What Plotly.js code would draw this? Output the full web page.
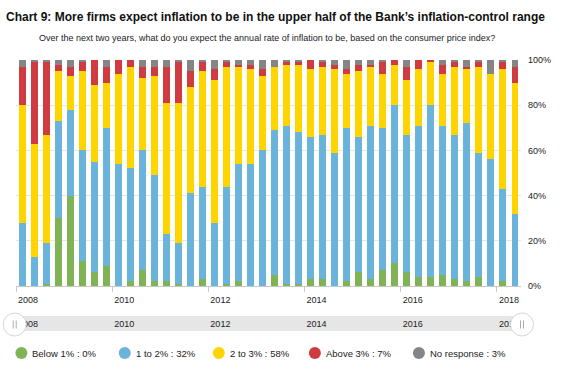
<!DOCTYPE html>
<html>
<head>
<meta charset="utf-8">
<script src="https://cdn.plot.ly/plotly-3.0.1.min.js"></script>
<style>html,body{margin:0;padding:0;background:#fff;}#chart{width:562px;height:375px;}</style>
</head>
<body>
<div id="chart"></div>
<script>
// ---- Data ----
const periods = ["2008Q1","2008Q2","2008Q3","2008Q4","2009Q1","2009Q2","2009Q3","2009Q4",
  "2010Q1","2010Q2","2010Q3","2010Q4","2011Q1","2011Q2","2011Q3","2011Q4",
  "2012Q1","2012Q2","2012Q3","2012Q4","2013Q1","2013Q2","2013Q3","2013Q4",
  "2014Q1","2014Q2","2014Q3","2014Q4","2015Q1","2015Q2","2015Q3","2015Q4",
  "2016Q1","2016Q2","2016Q3","2016Q4","2017Q1","2017Q2","2017Q3","2017Q4",
  "2018Q1","2018Q2"];
const below1   = [0,0,1,30,40,11,6,9,0,2,7,2,2,1,0,3,0,1,2,0,0,5,1,1,3,3,0,2,6,3,7,10,6,4,4,5,3,2,4,0,2,0];
const oneTo2   = [28,13,18,43,38,49,49,61,54,50,53,47,21,18,41,41,28,43,52,54,60,64,70,67,63,64,59,68,60,68,63,70,61,67,76,66,64,70,55,56,41,32];
const twoTo3   = [52,50,48,22,15,35,34,20,40,45,32,44,58,62,47,51,63,53,43,42,33,28,27,30,30,30,37,24,29,26,24,18,24,25,19,23,30,24,38,38,53,58];
const above3   = [17,36,32,3,4,4,11,7,6,3,5,4,16,18,7,4,5,2,1,2,3,0,1,1,4,2,2,2,3,1,5,2,6,4,1,4,2,1,2,0,3,7];
const noResp   = [3,1,1,2,3,1,0,3,0,0,3,3,3,1,5,1,4,1,2,2,4,3,1,1,0,1,2,4,2,2,1,0,3,0,0,2,1,3,1,6,1,3];
const seriesNames = ["Below 1%","1 to 2%","2 to 3%","Above 3%","No response"];
const yearTicks = [2008,2010,2012,2014,2016,2018];
const yTicks = [0,20,40,60,80,100];

// ---- Styles ----
const colors = ["#7fb356","#6ab4dc","#ffd500","#cf3b40","#858585"];
const FONT = '"Liberation Sans", Arial, sans-serif';
const W = 562, H = 375;
const L = 16.3, R = 521, T = 60, B = 331; // paper box in px
const PW = R - L, PH = B - T;
const px2x = p => (p - L) / PW;
const px2y = p => (B - p) / PH;

const xPos = periods.map(p => parseInt(p.slice(0,4)) + (parseInt(p.slice(5)) - 0.5) / 4);
const allSeries = [below1, oneTo2, twoTo3, above3, noResp];

const traces = allSeries.map((vals, i) => ({
  type: 'bar', x: xPos, y: vals, name: seriesNames[i],
  marker: {color: colors[i], line: {width: 0}},
  showlegend: false, hoverinfo: 'skip', xaxis: 'x', yaxis: 'y'
}));

const mainBottom = px2y(286);
const navTop = px2y(316);

const shapes = [];
const annotations = [];

// navigator band
shapes.push({type:'rect', xref:'paper', yref:'paper', x0:px2x(15), x1:px2x(522), y0:0, y1:navTop,
  fillcolor:'#e6e6e6', line:{width:0}, layer:'below'});
// handles
[15, 522].forEach(cx => {
  shapes.push({type:'circle', xref:'paper', yref:'paper', xsizemode:'pixel', ysizemode:'pixel',
    xanchor:px2x(cx), yanchor:px2y(324.5), x0:-11.5, x1:11.5, y0:-11.5, y1:11.5,
    fillcolor:'#ffffff', line:{color:'#d6d6d6', width:1}, layer:'above'});
  [-1.5, 1.5].forEach(dx => {
    shapes.push({type:'line', xref:'paper', yref:'paper', xsizemode:'pixel', ysizemode:'pixel',
      xanchor:px2x(cx), yanchor:px2y(324.5), x0:dx, x1:dx, y0:-4, y1:4,
      line:{color:'#aaaaaa', width:1}, layer:'above'});
  });
});

// legend
const legX = [21.7, 125, 219, 315, 419];
const legY = 353;
seriesNames.forEach((n, i) => {
  shapes.push({type:'circle', xref:'paper', yref:'paper', xsizemode:'pixel', ysizemode:'pixel',
    xanchor:px2x(legX[i]), yanchor:px2y(legY), x0:-6, x1:6, y0:-6, y1:6,
    fillcolor:colors[i], line:{width:0}});
  const series = allSeries[i];
  annotations.push({xref:'paper', yref:'paper', x:px2x(legX[i] + 9), y:px2y(legY),
    xanchor:'left', yanchor:'middle', showarrow:false,
    text: n + ' : ' + series[series.length - 1] + '%',
    font:{family:FONT, size:9.5, color:'#222'}});
});

// subtitle
annotations.push({xref:'paper', yref:'paper', x:px2x(267), y:px2y(38), xanchor:'center', yanchor:'middle',
  showarrow:false, text:'Over the next two years, what do you expect the annual rate of inflation to be, based on the consumer price index?',
  font:{family:FONT, size:9, color:'#222'}});

const layout = {
  width: W, height: H,
  margin: {l: L, r: W - R, t: T, b: H - B, pad: 0},
  paper_bgcolor: '#ffffff', plot_bgcolor: 'rgba(0,0,0,0)',
  barmode: 'stack', bargap: 0.42,
  showlegend: false,
  title: {text: '<b>Chart 9: More firms expect inflation to be in the upper half of the Bank\u2019s inflation-control range</b>',
    x: 6 / W, xanchor: 'left', xref: 'container', y: 1 - 17 / H, yanchor: 'middle', yref: 'container',
    font: {family: FONT, size: 12, color: '#111'}},
  xaxis: {anchor: 'y', domain: [0, 1], range: [2008, 2018.5], tickmode: 'array', tickvals: yearTicks,
    ticktext: yearTicks.map(String), ticks: 'outside', ticklen: 5, tickcolor: '#c8c8c8',
    showline: true, linecolor: '#c8c8c8', linewidth: 1, showgrid: false, zeroline: false,
    ticklabelshift: 12, tickfont: {family: FONT, size: 9, color: '#222'}, fixedrange: true},
  yaxis: {anchor: 'x', domain: [mainBottom, 1], range: [0, 100], side: 'right', tickmode: 'array',
    tickvals: yTicks, ticktext: yTicks.map(v => v + '%'), showgrid: true, gridcolor: '#e6e6e6',
    zeroline: false, showline: false, ticks: '', ticklabelstandoff: 6,
    tickfont: {family: FONT, size: 9, color: '#222'}, fixedrange: true},
  xaxis2: {anchor: 'y2', domain: [0, 1], range: [2008, 2018.5], tickmode: 'array', tickvals: yearTicks,
    ticktext: yearTicks.map(String), side: 'top', ticklabelposition: 'inside', ticks: '',
    showline: false, showgrid: false, zeroline: false, ticklabelshift: 12, ticklabelstandoff: 2,
    tickfont: {family: FONT, size: 9, color: '#222'}, fixedrange: true},
  yaxis2: {anchor: 'x2', domain: [0, navTop], range: [0, 1], visible: false, fixedrange: true},
  shapes: shapes,
  annotations: annotations
};

// a dummy invisible trace so xaxis2/yaxis2 are drawn
traces.push({type:'scatter', x:[2008], y:[0.5], xaxis:'x2', yaxis:'y2', mode:'markers',
  marker:{opacity:0}, hoverinfo:'skip', showlegend:false});

Plotly.newPlot('chart', traces, layout, {displayModeBar: false, staticPlot: true});
</script>
</body>
</html>
